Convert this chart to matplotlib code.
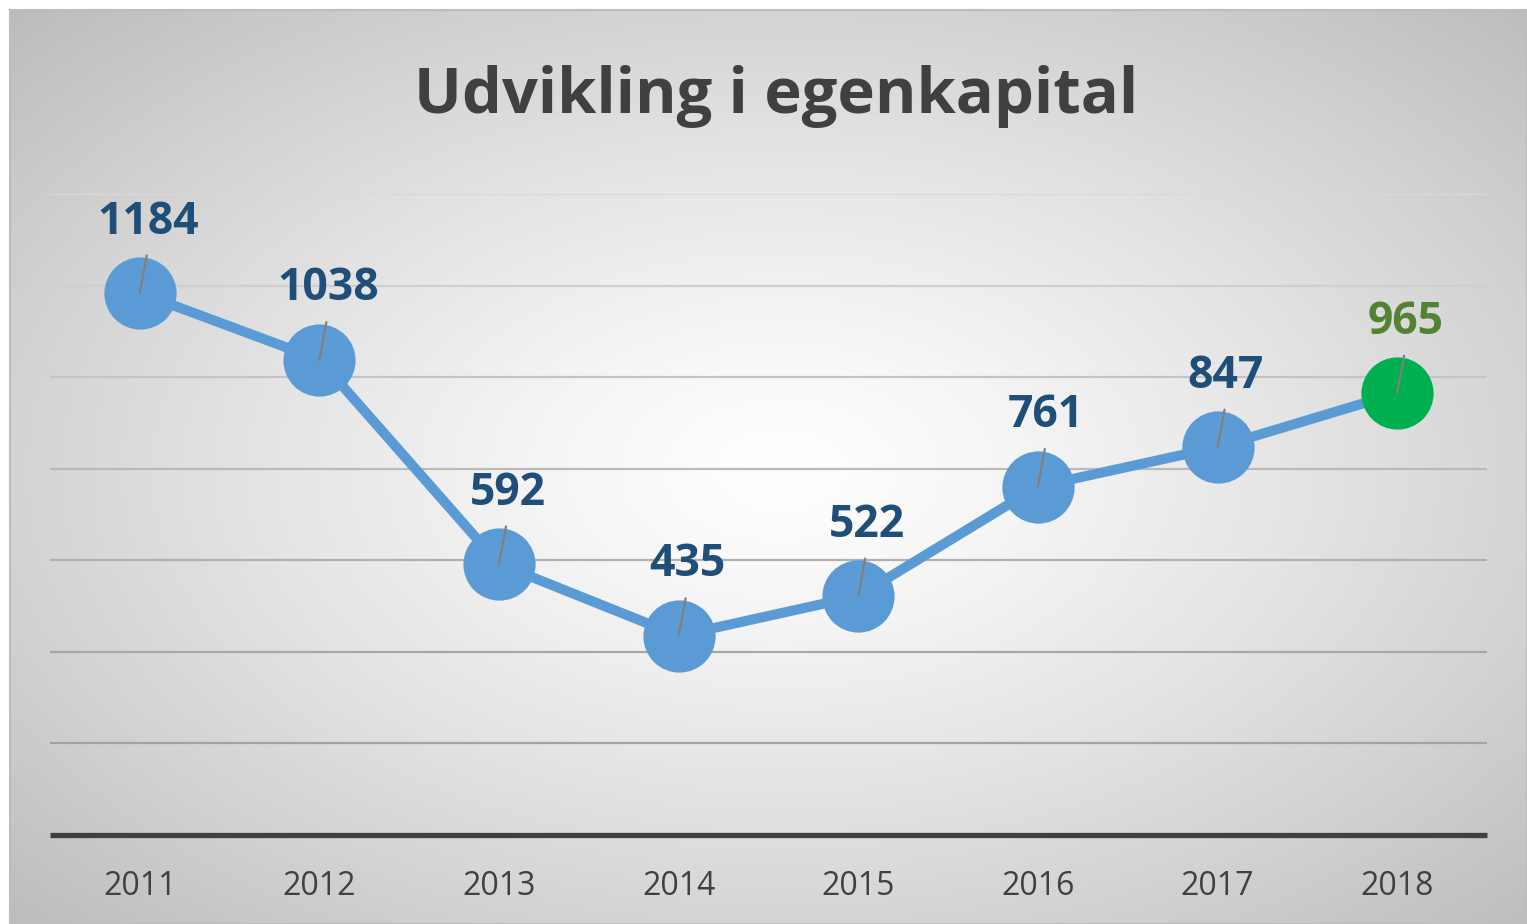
import matplotlib.pyplot as plt
import numpy as np

years = ['2011', '2012', '2013', '2014', '2015', '2016', '2017', '2018']
equity = [1184, 1038, 592, 435, 522, 761, 847, 965]
grid_values = [200, 400, 600, 800, 1000, 1200, 1400]

W, H, DPI = 1527, 924, 100
fig = plt.figure(figsize=(W / DPI, H / DPI), dpi=DPI)
fig.patch.set_facecolor('white')

# chart area background: radial grey gradient, white in the middle
bg = fig.add_axes([10 / W, 0, 1 - 10 / W, 1 - 10 / H])
yy, xx = np.mgrid[0:H - 10, 0:W - 10]
cx, cy = 770, 460
r = np.sqrt(((xx - cx) / 780.0) ** 2 + ((yy - cy) / 470.0) ** 2) / np.sqrt(2)
shade = 1 - 0.27 * np.clip(r, 0, 1.2) ** 1.25
bg.imshow(np.dstack([shade] * 3), aspect='auto', interpolation='bilinear')
bg.set_xticks([])
bg.set_yticks([])
for s in bg.spines.values():
    s.set_color('#bdbdbd')
    s.set_linewidth(1.5)

# plot area
ax = fig.add_axes([50 / W, 1 - 835 / H, 1437 / W, (835 - 194) / H])
ax.patch.set_alpha(0)
x = np.arange(len(years))
ax.set_xlim(-0.5, len(years) - 0.5)
ax.set_ylim(0, 1400)

# gridlines, darker towards the bottom
grid_colors = ['#a3a3a3', '#a8a8a8', '#b0b0b0', '#bababa', '#c4c4c4', '#cfcfcf', '#d9d9d9']
for v, c in zip(grid_values, grid_colors):
    ax.axhline(v, color=c, lw=1.6, zorder=1)
ax.axhline(0, color='#404040', lw=3.8, zorder=2, clip_on=False, solid_capstyle='butt')

ax.plot(x, equity, color='#5b9bd5', lw=7.2, zorder=3, solid_capstyle='round')
ax.plot(x[:-1], equity[:-1], 'o', ms=52, color='#5b9bd5', mec='none', zorder=4)
ax.plot(x[-1:], equity[-1:], 'o', ms=52, color='#00b050', mec='none', zorder=4)

for i, v in enumerate(equity):
    last = i == len(equity) - 1
    ax.annotate('', xy=(x[i], v), xytext=(5, 27), textcoords='offset points',
                arrowprops=dict(arrowstyle='-', color='#7f7f7f', lw=1.6,
                                shrinkA=0, shrinkB=0), zorder=5)
    ax.annotate(str(v), xy=(x[i], v), xytext=(6, 51), textcoords='offset points',
                ha='center', va='center', fontsize=32, fontweight='bold',
                family='Open Sans', color='#548235' if last else '#1f4e79',
                zorder=6)

ax.set_yticks([])
ax.set_xticks(x)
ax.set_xticklabels(years, family='Open Sans', fontsize=23, color='#404040')
ax.tick_params(axis='x', length=0, pad=25)
for s in ax.spines.values():
    s.set_visible(False)

fig.text(776 / W, 1 - 97 / H, 'Udvikling i egenkapital', ha='center', va='center',
         fontsize=45.5, fontweight='bold', family='Open Sans', color='#404040')

fig.savefig('out.png', dpi=DPI)
